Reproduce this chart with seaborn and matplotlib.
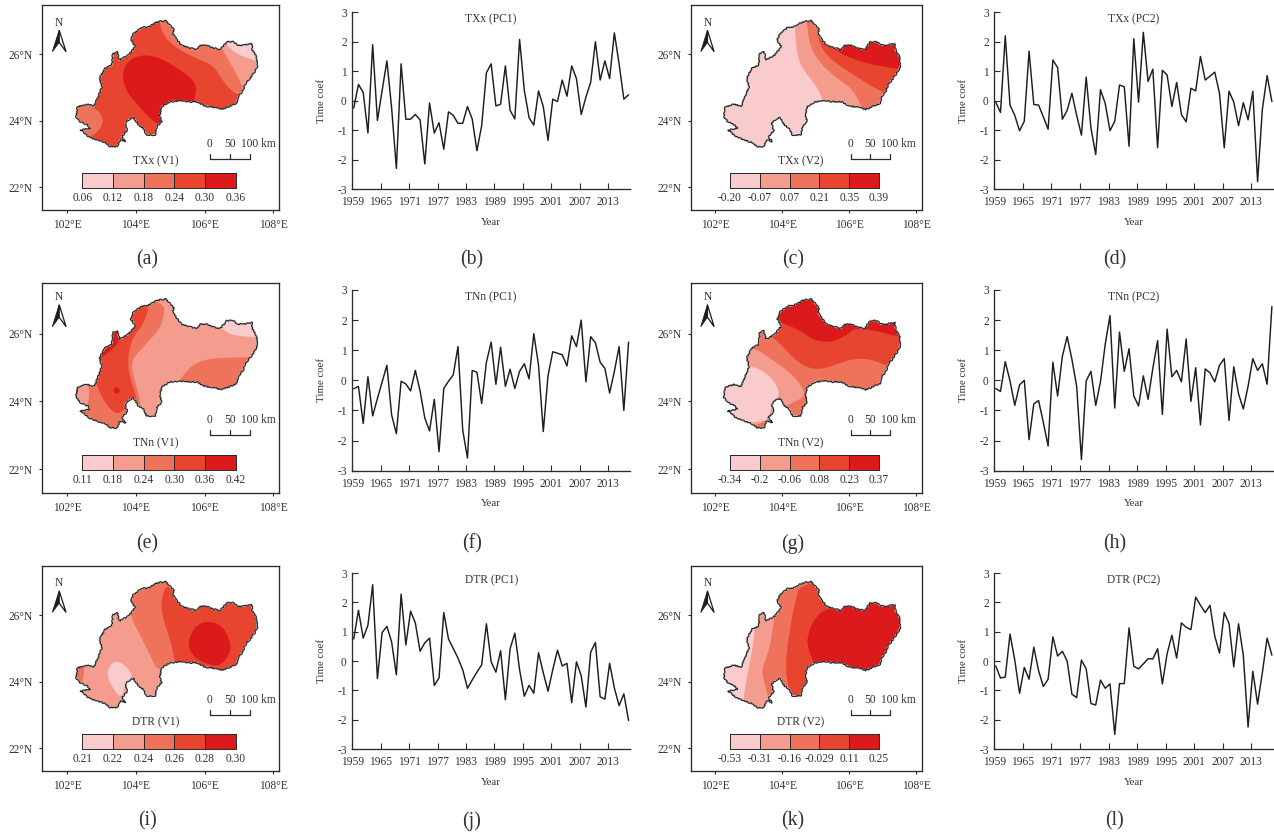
import numpy as np
import pandas as pd
import matplotlib
matplotlib.use("Agg")
import matplotlib.pyplot as plt
import seaborn as sns
from matplotlib.colors import ListedColormap
from matplotlib.patches import Polygon

#-------------------------------------------
# Data
#-------------------------------------------

YEARS = list(range(1959, 2018))
YEAR_TICKS = [1959, 1965, 1971, 1977, 1983, 1989, 1995, 2001, 2007, 2013]

TXX_PC1 = [-.25, .55, .28, -1.1, 1.9, -.67, .35, 1.35, -.25, -2.3, 1.25, -.63, -.63, -.47, -.65,
           -2.15, -.08, -1.1, -.75, -1.65, -.38, -.5, -.77, -.77, -.2, -.62, -1.7, -.85, .95, 1.25,
           -.18, -.12, 1.18, -.33, -.62, 2.08, .35, -.58, -.83, .33, -.2, -1.35, .05, -.03, .7,
           .15, 1.18, .75, -.47, .12, .62, 2.0, .7, 1.35, .75, 2.3, 1.25, .05, .2]
TXX_PC2 = [-.05, -.4, 2.2, -.15, -.5, -1.02, -.7, 1.68, -.13, -.15, -.55, -.97, 1.38, 1.12, -.63,
           -.33, .25, -.5, -1.17, .8, -.93, -1.83, .37, -.1, -1.02, -.7, .53, .47, -1.55, 2.1,
           -.05, 2.32, .65, 1.07, -1.6, 1.03, .87, -.2, .62, -.47, -.72, .42, .33, 1.5, .7,
           .83, .97, .25, -1.6, .32, -.05, -.85, -.07, -.65, .32, -2.75, -.3, .85, -.03]
TNN_PC1 = [-.28, -.2, -1.43, .12, -1.18, -.6, -.05, .5, -1.15, -1.77, -.03, -.12, -.35, .33, -.35,
           -1.25, -1.68, -.63, -2.37, -.27, -.03, .18, 1.12, -1.65, -2.58, .33, .27, -.77, .6, 1.27,
           -.13, 1.1, -.2, .37, -.27, .3, .55, .05, 1.55, .5, -1.7, .15, .95, .9, .85,
           .48, 1.48, 1.12, 2.0, -.05, 1.45, 1.25, .6, .4, -.42, .3, 1.12, -1.0, 1.27]
TNN_PC2 = [-.27, -.37, .62, -.02, -.83, -.15, 0, -1.97, -.78, -.67, -1.4, -2.18, .6, -.52, .8,
           1.45, .7, -.2, -2.63, -.02, .3, -.83, -.05, 1.2, 2.15, -.92, 1.6, .3, 1.05, -.52,
           -.85, .15, -.63, .4, 1.32, -1.13, 1.7, .12, .33, -.05, 1.37, -.7, .42, -1.48, .38,
           .25, -.05, .5, .72, -1.33, .45, -.45, -.95, -.2, .72, .33, .55, -.13, 2.45]
DTR_PC1 = [.75, 1.73, .78, 1.22, 2.6, -.6, .97, 1.18, .65, -.47, 2.28, .55, 1.7, 1.3, .33,
           .62, .78, -.83, -.58, 1.65, .75, .43, .1, -.3, -.93, -.65, -.38, -.13, 1.27, -.03,
           -.38, .35, -1.32, .42, .95, -.3, -1.2, -.83, -1.1, .28, -.4, -1.03, -.3, .37, -.17,
           -.08, -1.42, -.03, -.5, -1.57, .3, .63, -1.22, -1.3, -.08, -.92, -1.52, -1.12, -2.03]
DTR_PC2 = [-.17, -.58, -.55, .92, .03, -1.1, -.22, -.62, .47, -.33, -.87, -.62, .82, .17, .33,
           0, -1.13, -1.25, .03, -.27, -1.45, -1.5, -.65, -.93, -.78, -2.5, -.77, -.77, 1.13, -.18,
           -.27, -.1, .08, .07, .42, -.78, .25, .88, .1, 1.3, 1.15, 1.07, 2.18, 1.9, 1.65,
           1.9, .85, .27, 1.65, 1.28, -.2, 1.27, .2, -2.25, -.35, -1.47, -.4, .78, .2]

# region outline, lon / lat
OUTLINE = [(104.61, 26.98), (104.88, 27.02), (104.99, 26.88), (105.11, 26.75), (105.07, 26.63),
           (105.19, 26.45), (105.33, 26.28), (105.57, 26.20), (105.77, 26.15), (105.86, 26.28),
           (106.06, 26.28), (106.25, 26.20), (106.45, 26.15), (106.54, 26.25), (106.64, 26.38),
           (106.83, 26.38), (106.95, 26.28), (107.12, 26.28), (107.37, 26.33), (107.39, 26.13),
           (107.51, 25.93), (107.53, 25.63), (107.46, 25.48), (107.32, 25.28), (107.17, 25.08),
           (107.12, 24.92), (106.98, 24.72), (106.93, 24.52), (106.74, 24.44), (106.49, 24.34),
           (106.30, 24.40), (106.01, 24.44), (105.77, 24.57), (105.53, 24.57), (105.28, 24.60),
           (104.99, 24.57), (104.75, 24.42), (104.70, 24.17), (104.75, 23.97), (104.61, 23.82),
           (104.56, 23.57), (104.31, 23.57), (104.22, 23.77), (104.07, 23.87), (103.93, 24.10),
           (103.78, 24.02), (103.69, 23.92), (103.75, 23.70), (103.59, 23.52), (103.71, 23.37),
           (103.54, 23.42), (103.46, 23.22), (103.25, 23.22), (103.10, 23.34), (102.86, 23.42),
           (102.62, 23.52), (102.46, 23.67), (102.38, 23.72), (102.67, 23.77), (102.59, 23.87),
           (102.38, 23.97), (102.26, 24.12), (102.30, 24.42), (102.57, 24.50), (102.78, 24.44),
           (102.91, 24.77), (103.01, 25.03), (102.94, 25.28), (103.10, 25.58), (103.30, 25.68),
           (103.33, 26.03), (103.46, 26.08), (103.52, 25.83), (103.78, 25.98), (103.98, 26.23),
           (103.85, 26.43), (103.93, 26.63), (104.17, 26.81), (104.36, 26.83)]

# each map: colour class of the background, then (class, area) painted in order
TXX_V1_BASE = 3
TXX_V1_ZONES = [
    (4, [(103.59, 25.43), (103.78, 25.83), (104.22, 26.00), (104.70, 25.90), (105.19, 25.60),
         (105.65, 25.25), (105.78, 24.97), (105.65, 24.45), (104.85, 24.20), (104.78, 23.90),
         (104.61, 23.90), (104.31, 24.17), (104.02, 24.52), (103.72, 24.87)]),
    (2, [(104.68, 26.88), (104.90, 26.43), (105.28, 26.13), (105.86, 25.83), (106.25, 25.68),
         (106.64, 25.03), (107.03, 24.72), (107.80, 24.62), (107.80, 27.14), (104.70, 27.40)]),
    (1, [(106.45, 26.28), (106.69, 25.83), (106.98, 25.33), (107.12, 24.92), (107.80, 24.92),
         (108.20, 27.00), (106.45, 27.00)]),
    (0, [(106.56, 26.38), (106.83, 26.08), (107.12, 25.93), (107.56, 25.78), (108.20, 25.70),
         (108.20, 27.00), (106.50, 27.00), (106.50, 26.50)]),
    (2, [(102.23, 24.47), (102.62, 24.50), (102.96, 24.27), (103.06, 23.97), (102.91, 23.67),
         (102.62, 23.50), (102.00, 23.45), (102.00, 24.50)]),
]
TXX_V2_BASE = 0
TXX_V2_ZONES = [
    (1, [(104.37, 26.93), (104.45, 25.93), (104.64, 25.53), (105.04, 25.03), (105.24, 24.57),
         (105.34, 24.20), (107.94, 24.20), (107.94, 27.20), (104.40, 27.20)]),
    (2, [(104.74, 26.88), (104.84, 26.23), (105.14, 25.73), (105.64, 25.28), (106.14, 24.92),
         (106.39, 24.37), (106.50, 24.20), (107.94, 24.20), (107.94, 27.20), (104.74, 27.20)]),
    (3, [(105.04, 26.53), (105.34, 25.93), (105.84, 25.58), (106.34, 25.25), (107.04, 24.82),
         (107.94, 24.62), (108.20, 27.20), (105.04, 27.20)]),
    (4, [(105.25, 26.45), (105.64, 26.08), (106.14, 25.85), (106.74, 25.68), (107.54, 25.55),
         (108.20, 25.50), (108.20, 27.00), (105.20, 27.00), (105.20, 26.55)]),
]
TNN_V1_BASE = 1
TNN_V1_ZONES = [
    (2, [(104.85, 27.08), (104.80, 26.29), (104.36, 25.75), (103.93, 25.31), (103.86, 24.97),
         (104.07, 24.28), (104.22, 23.45), (103.73, 22.86), (101.50, 22.86), (101.50, 27.08)]),
    (2, [(105.23, 24.58), (105.62, 25.07), (106.06, 25.25), (106.83, 25.30), (108.20, 25.30),
         (108.20, 24.14), (105.23, 24.14)]),
    (3, [(104.41, 26.98), (104.27, 26.34), (103.88, 25.85), (103.76, 25.26), (103.81, 24.72),
         (104.10, 23.89), (103.69, 23.80), (103.44, 23.60), (103.15, 23.89), (102.96, 24.24),
         (102.81, 24.63), (101.99, 25.12), (101.99, 26.98)]),
    (4, [(103.59, 26.10), (103.56, 25.85), (103.35, 25.56), (103.01, 25.29), (102.76, 25.21),
         (102.76, 26.20)]),
    (4, [(103.32, 24.32), (103.44, 24.44), (103.56, 24.32), (103.44, 24.20)]),
    (0, [(106.45, 26.19), (106.74, 25.97), (107.22, 25.90), (108.20, 25.88), (108.20, 27.00),
         (106.40, 27.00), (106.40, 26.30)]),
    (1, [(102.62, 24.53), (102.65, 24.19), (102.59, 23.85), (102.00, 23.66), (102.00, 24.53)]),
]
TNN_V2_BASE = 3
TNN_V2_ZONES = [
    (4, [(103.85, 26.34), (104.45, 26.15), (104.94, 25.80), (105.44, 25.73), (105.94, 25.95),
         (106.14, 26.15), (106.64, 26.12), (107.49, 25.90), (108.20, 25.85), (108.20, 27.20),
         (103.85, 27.20)]),
    (2, [(103.25, 26.10), (103.75, 25.90), (104.25, 25.36), (104.69, 25.00), (105.19, 24.94),
         (105.69, 25.12), (106.14, 25.26), (106.69, 25.24), (107.14, 25.03), (107.94, 25.02),
         (107.94, 22.86), (101.75, 22.86), (101.75, 26.10)]),
    (1, [(103.15, 25.61), (103.65, 25.26), (104.15, 24.92), (104.54, 24.53), (104.72, 24.14),
         (104.15, 23.90), (103.55, 23.45), (103.15, 23.25), (101.75, 23.25), (101.75, 25.61)]),
    (0, [(103.05, 25.04), (103.40, 24.92), (103.75, 24.63), (103.95, 24.19), (103.70, 23.94),
         (103.60, 23.45), (103.20, 23.37), (101.75, 23.37), (101.75, 25.04)]),
]
DTR_V1_BASE = 1
DTR_V1_ZONES = [
    (2, [(103.78, 27.08), (103.83, 25.97), (104.12, 25.42), (104.41, 24.81), (104.68, 24.21),
         (107.80, 24.21), (107.80, 27.08)]),
    (3, [(104.90, 27.08), (104.72, 26.37), (104.80, 25.87), (105.00, 25.26), (105.14, 24.61),
         (105.14, 24.16), (108.20, 24.16), (108.20, 27.08)]),
    (4, [(105.53, 25.26), (105.72, 25.67), (106.06, 25.84), (106.49, 25.72), (106.76, 25.21),
         (106.74, 24.86), (106.49, 24.51), (106.25, 24.48), (105.77, 24.66), (105.55, 24.96)]),
    (0, [(103.15, 24.21), (103.25, 24.51), (103.44, 24.64), (103.71, 24.48), (103.93, 24.16),
         (103.69, 23.91), (103.59, 23.50), (103.35, 23.76)]),
    (2, [(102.50, 24.51), (102.49, 24.21), (102.43, 23.94), (102.00, 23.94), (102.00, 24.51)]),
]
DTR_V2_BASE = 0
DTR_V2_ZONES = [
    (1, [(103.20, 25.77), (103.13, 25.06), (102.97, 24.26), (102.83, 23.40), (102.85, 22.85),
         (108.20, 22.85), (108.20, 27.20), (103.20, 27.20)]),
    (2, [(103.80, 26.57), (103.77, 25.87), (103.60, 24.86), (103.37, 24.36), (103.53, 23.75),
         (103.65, 23.25), (108.20, 23.25), (108.20, 27.20), (103.80, 27.20)]),
    (3, [(104.59, 27.08), (104.37, 26.37), (104.15, 25.06), (104.10, 24.31), (104.25, 23.55),
         (104.35, 23.25), (108.20, 23.25), (108.20, 27.08)]),
    (4, [(105.34, 26.27), (104.94, 25.87), (104.74, 25.35), (104.79, 24.96), (104.96, 24.51),
         (105.14, 24.16), (108.20, 24.16), (108.20, 26.50)]),
]

CLASS_COLORS = ["#f9cbcd", "#f49c8e", "#ee735a", "#e84530", "#dc1a1c"]

TXX_V1_LEVELS = ["0.06", "0.12", "0.18", "0.24", "0.30", "0.36"]
TXX_V2_LEVELS = ["-0.20", "-0.07", "0.07", "0.21", "0.35", "0.39"]
TNN_V1_LEVELS = ["0.11", "0.18", "0.24", "0.30", "0.36", "0.42"]
TNN_V2_LEVELS = ["-0.34", "-0.2", "-0.06", "0.08", "0.23", "0.37"]
DTR_V1_LEVELS = ["0.21", "0.22", "0.24", "0.26", "0.28", "0.30"]
DTR_V2_LEVELS = ["-0.53", "-0.31", "-0.16", "-0.029", "0.11", "0.25"]

#-------------------------------------------
# Page layout, in pixels of the 1274x833 page
#-------------------------------------------

W, H = 1274, 833
TEXT_COLOR = "#333333"
LINE_COLOR = "#2a2a2a"

ROW_MAP_Y = [(5.3, 210), (283.3, 492.7), (566.3, 771)]
ROW_TS_Y = [(12.3, 189), (290, 470.7), (573, 749)]
ROW_LABEL_Y = [260, 544, 821]
COL_MAP_X = [(42, 279.3), (690.7, 921.7)]
COL_TS_X = [(352.3, 630), (994.3, 1273.3)]
COL_LABEL_X = [147.5, 472, 793, 1115]

# north mark and scale bar sit a little differently per row
ROW_NORTH_LAT = [26.96, 27.08, 26.97]
ROW_SCALE_LAT = [22.86, 23.00, 22.99]
COL_SCALE_LON = [106.15, 106.05]

sns.set_theme(style="ticks", rc={
    "axes.unicode_minus": False,
    "text.color": TEXT_COLOR,
    "axes.labelcolor": TEXT_COLOR,
    "xtick.color": TEXT_COLOR,
    "ytick.color": TEXT_COLOR,
})
plt.rcParams["font.family"] = ["Liberation Serif", "DejaVu Sans"]

fig = plt.figure(figsize=(W / 100, H / 100), dpi=100)


def add_axes_px(x0, x1, y0, y1):
    return fig.add_axes([x0 / W, 1 - y1 / H, (x1 - x0) / W, (y1 - y0) / H])


def smooth(points, rounds=3):
    # corner cutting so the hand traced class borders come out as curves
    pts = np.array(points, dtype=float)
    for _ in range(rounds):
        nxt = np.roll(pts, -1, axis=0)
        pts = np.column_stack([0.75 * pts + 0.25 * nxt, 0.25 * pts + 0.75 * nxt]).reshape(-1, 2)
    return pts


def draw_map(ax, base, zones, title, levels, north_lat, scale_lat, scale_lon):
    ax.set_xlim(101.27, 108.17)
    ax.set_ylim(21.31, 27.48)

    region = Polygon(OUTLINE, closed=True, facecolor=CLASS_COLORS[base], edgecolor="none", zorder=1)
    ax.add_patch(region)
    for cls, area in zones:
        patch = Polygon(smooth(area), closed=True, facecolor=CLASS_COLORS[cls], edgecolor="none", zorder=2)
        ax.add_patch(patch)
        patch.set_clip_path(region)

    # rough border, grey halo under a dark line
    ax.add_patch(Polygon(OUTLINE, closed=True, fill=False, edgecolor="#b5b5b5", lw=1.3, zorder=3))
    border = Polygon(OUTLINE, closed=True, fill=False, edgecolor="#1c1c1c", lw=0.7, zorder=4)
    border.set_sketch_params(scale=0.7, length=4, randomness=3)
    ax.add_patch(border)

    ax.set_xticks([102, 104, 106, 108], ["102°E", "104°E", "106°E", "108°E"])
    ax.set_yticks([22, 24, 26], ["22°N", "24°N", "26°N"])
    ax.tick_params(length=2.5, width=0.8, labelsize=8.3, pad=4, color=LINE_COLOR)
    for side in ax.spines.values():
        side.set_linewidth(0.95)
        side.set_color(LINE_COLOR)

    # north mark
    ax.text(101.77, north_lat, "N", ha="center", va="center", fontsize=8.3)
    tip = (101.77, north_lat - 0.23)
    notch = (101.77, north_lat - 0.60)
    ax.add_patch(Polygon([tip, (101.57, north_lat - 0.88), notch], closed=True, facecolor="#1c1c1c",
                         edgecolor="#1c1c1c", lw=0.6))
    ax.add_patch(Polygon([tip, (101.97, north_lat - 0.88), notch], closed=True, facecolor="white",
                         edgecolor="#1c1c1c", lw=0.9))

    # scale bar
    bar_lons = [scale_lon, scale_lon + 0.58, scale_lon + 1.16]
    ax.plot([bar_lons[0], bar_lons[2]], [scale_lat, scale_lat], color=LINE_COLOR, lw=0.9)
    for lon in bar_lons:
        ax.plot([lon, lon], [scale_lat, scale_lat + 0.15], color=LINE_COLOR, lw=0.9)
    label_lat = scale_lat + 0.45
    ax.text(bar_lons[0], label_lat, "0", ha="center", va="center", fontsize=8.3)
    ax.text(bar_lons[1], label_lat, "50", ha="center", va="center", fontsize=8.3)
    ax.text(bar_lons[2] + 0.26, label_lat, "100 km", ha="center", va="center", fontsize=8.3)

    # colour classes
    ax.text(104.58 if scale_lon > 106.1 else 104.56, 22.78, title, ha="center", va="center", fontsize=8.3)
    cax = ax.inset_axes([102.44, 21.98, 4.46, 0.45], transform=ax.transData)
    sns.heatmap([[0, 1, 2, 3, 4]], cmap=ListedColormap(CLASS_COLORS), vmin=-0.5, vmax=4.5, cbar=False,
                linewidths=0.5, linecolor=LINE_COLOR, ax=cax)
    cax.set_xticks(range(6), levels, rotation=0)
    cax.set_yticks([])
    cax.tick_params(axis="x", length=0, pad=3, labelsize=8.3, bottom=False)
    cax.set_xlabel("")
    cax.set_ylabel("")
    for side in cax.spines.values():
        side.set_visible(True)
        side.set_linewidth(0.7)
        side.set_color(LINE_COLOR)


def draw_series(ax, values, title):
    frame = pd.DataFrame({"Year": YEARS, "coef": values})
    sns.lineplot(data=frame, x="Year", y="coef", color="#1e1e1e", lw=1.05, ax=ax)

    # the curve starts a little to the right of the axis origin
    ax.set_xlim(1958.7, 2017.3)
    ax.set_ylim(-3, 3)
    ax.set_xticks([y - 0.3 for y in YEAR_TICKS], [str(y) for y in YEAR_TICKS])
    ax.set_yticks([-3, -2, -1, 0, 1, 2, 3], ["-3", "-2", "-1", "0", "1", "2", "3"])
    ax.tick_params(direction="in", length=4, width=0.8, labelsize=8.3, pad=4, color=LINE_COLOR)
    ax.tick_params(axis="x", pad=5)
    ax.set_xlabel("Year", fontsize=7.8, labelpad=7)
    ax.set_ylabel("Time coef", fontsize=7.8, labelpad=8)
    ax.text(0.5, 0.96, title, transform=ax.transAxes, ha="center", va="center", fontsize=8.3)
    sns.despine(ax=ax)
    for name in ["left", "bottom"]:
        ax.spines[name].set_linewidth(0.95)
        ax.spines[name].set_color(LINE_COLOR)


def main():
    #-------------------------------------------
    # Maps
    #-------------------------------------------
    maps = [
        (0, 0, TXX_V1_BASE, TXX_V1_ZONES, "TXx (V1)", TXX_V1_LEVELS),
        (0, 1, TXX_V2_BASE, TXX_V2_ZONES, "TXx (V2)", TXX_V2_LEVELS),
        (1, 0, TNN_V1_BASE, TNN_V1_ZONES, "TNn (V1)", TNN_V1_LEVELS),
        (1, 1, TNN_V2_BASE, TNN_V2_ZONES, "TNn (V2)", TNN_V2_LEVELS),
        (2, 0, DTR_V1_BASE, DTR_V1_ZONES, "DTR (V1)", DTR_V1_LEVELS),
        (2, 1, DTR_V2_BASE, DTR_V2_ZONES, "DTR (V2)", DTR_V2_LEVELS),
    ]
    for row, col, base, zones, title, levels in maps:
        ax = add_axes_px(*COL_MAP_X[col], *ROW_MAP_Y[row])
        draw_map(ax, base, zones, title, levels, ROW_NORTH_LAT[row], ROW_SCALE_LAT[row], COL_SCALE_LON[col])

    #-------------------------------------------
    # Time series
    #-------------------------------------------
    series = [
        (0, 0, TXX_PC1, "TXx (PC1)"),
        (0, 1, TXX_PC2, "TXx (PC2)"),
        (1, 0, TNN_PC1, "TNn (PC1)"),
        (1, 1, TNN_PC2, "TNn (PC2)"),
        (2, 0, DTR_PC1, "DTR (PC1)"),
        (2, 1, DTR_PC2, "DTR (PC2)"),
    ]
    for row, col, values, title in series:
        ax = add_axes_px(*COL_TS_X[col], *ROW_TS_Y[row])
        draw_series(ax, values, title)

    #-------------------------------------------
    # Panel letters
    #-------------------------------------------
    letters = "abcdefghijkl"
    for i, letter in enumerate(letters):
        fig.text(COL_LABEL_X[i % 4] / W, 1 - ROW_LABEL_Y[i // 4] / H, "(" + letter + ")",
                 ha="center", va="center", fontsize=14.2)

    fig.savefig("out.png", dpi=100)


if __name__ == "__main__":
    main()
